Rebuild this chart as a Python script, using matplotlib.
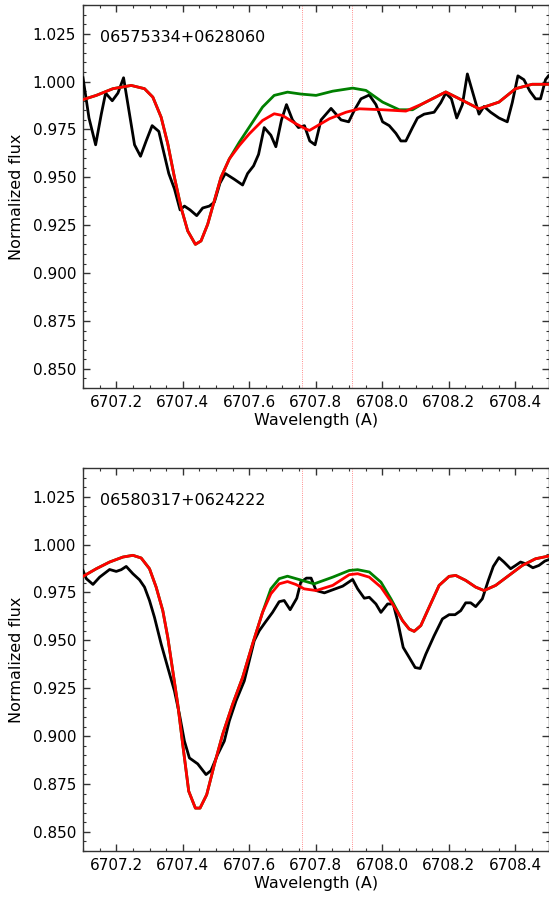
import matplotlib
matplotlib.use("Agg")
import matplotlib.pyplot as plt
from matplotlib.ticker import MultipleLocator, FormatStrFormatter

# ---------------- data: panel 1 ----------------
star1 = "06575334+0628060"
obs1_wave = [6707.100, 6707.118, 6707.138, 6707.155, 6707.168, 6707.188, 6707.205, 6707.222,
             6707.255, 6707.273, 6707.290, 6707.308, 6707.328, 6707.358, 6707.375, 6707.392,
             6707.405, 6707.422, 6707.442, 6707.460, 6707.480, 6707.495, 6707.512, 6707.528,
             6707.555, 6707.580, 6707.595, 6707.613, 6707.628, 6707.645, 6707.665, 6707.680,
             6707.697, 6707.712, 6707.730, 6707.748, 6707.766, 6707.782, 6707.798, 6707.816,
             6707.846, 6707.876, 6707.899, 6707.916, 6707.936, 6707.961, 6707.981, 6708.001,
             6708.021, 6708.041, 6708.056, 6708.071, 6708.091, 6708.106, 6708.126, 6708.156,
             6708.176, 6708.191, 6708.208, 6708.224, 6708.241, 6708.256, 6708.276, 6708.291,
             6708.306, 6708.326, 6708.351, 6708.376, 6708.391, 6708.408, 6708.426, 6708.444,
             6708.461, 6708.476, 6708.491, 6708.500]
obs1_flux = [1.002, 0.981, 0.967, 0.983, 0.994, 0.990, 0.994, 1.002,
             0.967, 0.961, 0.969, 0.977, 0.974, 0.952, 0.944, 0.933,
             0.935, 0.933, 0.930, 0.934, 0.935, 0.937, 0.947, 0.952,
             0.949, 0.946, 0.952, 0.956, 0.962, 0.976, 0.972, 0.966,
             0.980, 0.988, 0.980, 0.976, 0.977, 0.969, 0.967, 0.980,
             0.986, 0.980, 0.979, 0.985, 0.991, 0.993, 0.988, 0.979,
             0.977, 0.973, 0.969, 0.969, 0.976, 0.981, 0.983, 0.984,
             0.989, 0.994, 0.991, 0.981, 0.988, 1.004, 0.992, 0.983,
             0.987, 0.984, 0.981, 0.979, 0.989, 1.003, 1.001, 0.995,
             0.991, 0.991, 1.001, 1.003]

fit1_wave = [6707.100, 6707.140, 6707.190, 6707.245, 6707.285, 6707.310, 6707.335, 6707.355,
             6707.375, 6707.395, 6707.415, 6707.438, 6707.455, 6707.475, 6707.495, 6707.515,
             6707.540, 6707.570, 6707.600, 6707.640, 6707.675, 6707.700, 6707.740, 6707.770,
             6707.781, 6707.841, 6707.891, 6707.931, 6708.001, 6708.071, 6708.121, 6708.191,
             6708.231, 6708.291, 6708.351, 6708.401, 6708.451, 6708.500]
fit1_flux = [0.9906, 0.9928, 0.9963, 0.9980, 0.9963, 0.9919, 0.9814, 0.9675,
             0.9500, 0.9342, 0.9220, 0.9150, 0.9168, 0.9255, 0.9378, 0.9500,
             0.9596, 0.9666, 0.9727, 0.9797, 0.9832, 0.9823, 0.9780, 0.9753,
             0.9745, 0.9806, 0.9840, 0.9858, 0.9853, 0.9846, 0.9884, 0.9946,
             0.9911, 0.9858, 0.9893, 0.9963, 0.9986, 0.9986]

nli1_wave = [6707.100, 6707.140, 6707.190, 6707.245, 6707.285, 6707.310, 6707.335, 6707.355,
             6707.375, 6707.395, 6707.415, 6707.438, 6707.455, 6707.475, 6707.495, 6707.515,
             6707.540, 6707.570, 6707.600, 6707.640, 6707.675, 6707.715, 6707.755, 6707.801,
             6707.851, 6707.911, 6707.951, 6708.001, 6708.051, 6708.091, 6708.121, 6708.191,
             6708.231, 6708.291, 6708.351, 6708.401, 6708.451, 6708.500]
nli1_flux = [0.9906, 0.9928, 0.9963, 0.9980, 0.9963, 0.9919, 0.9814, 0.9675,
             0.9500, 0.9342, 0.9220, 0.9150, 0.9168, 0.9255, 0.9378, 0.9500,
             0.9596, 0.9683, 0.9762, 0.9867, 0.9928, 0.9945, 0.9935, 0.9928,
             0.9950, 0.9966, 0.9954, 0.9893, 0.9853, 0.9853, 0.9884, 0.9946,
             0.9911, 0.9858, 0.9893, 0.9963, 0.9986, 0.9986]

# ---------------- data: panel 2 ----------------
star2 = "06580317+0624222"
obs2_wave = [6707.100, 6707.110, 6707.130, 6707.150, 6707.180, 6707.200, 6707.215, 6707.230,
             6707.250, 6707.270, 6707.285, 6707.300, 6707.315, 6707.335, 6707.355, 6707.375,
             6707.390, 6707.405, 6707.420, 6707.445, 6707.470, 6707.485, 6707.505, 6707.525,
             6707.540, 6707.560, 6707.585, 6707.600, 6707.615, 6707.630, 6707.648, 6707.670,
             6707.690, 6707.705, 6707.723, 6707.743, 6707.755, 6707.772, 6707.786, 6707.801,
             6707.826, 6707.851, 6707.881, 6707.911, 6707.926, 6707.946, 6707.961, 6707.981,
             6707.996, 6708.016, 6708.033, 6708.046, 6708.063, 6708.081, 6708.099, 6708.114,
             6708.131, 6708.156, 6708.181, 6708.201, 6708.219, 6708.236, 6708.251, 6708.266,
             6708.281, 6708.301, 6708.319, 6708.334, 6708.351, 6708.366, 6708.386, 6708.401,
             6708.416, 6708.436, 6708.453, 6708.471, 6708.489, 6708.500]
obs2_flux = [0.9865, 0.9822, 0.9792, 0.9830, 0.9870, 0.9860, 0.9869, 0.9886,
             0.9848, 0.9816, 0.9778, 0.9708, 0.9620, 0.9481, 0.9358, 0.9236,
             0.9114, 0.8974, 0.8886, 0.8855, 0.8799, 0.8820, 0.8904, 0.8974,
             0.9079, 0.9183, 0.9288, 0.9393, 0.9498, 0.9550, 0.9594, 0.9646,
             0.9702, 0.9708, 0.9660, 0.9720, 0.9804, 0.9825, 0.9825, 0.9760,
             0.9748, 0.9764, 0.9783, 0.9818, 0.9769, 0.9720, 0.9725, 0.9690,
             0.9646, 0.9690, 0.9690, 0.9603, 0.9463, 0.9411, 0.9358, 0.9353,
             0.9428, 0.9524, 0.9612, 0.9634, 0.9634, 0.9655, 0.9696, 0.9696,
             0.9676, 0.9717, 0.9813, 0.9886, 0.9932, 0.9909, 0.9874, 0.9891,
             0.9909, 0.9897, 0.9879, 0.9891, 0.9914, 0.9921]

fit2_wave = [6707.100, 6707.140, 6707.180, 6707.220, 6707.250, 6707.275, 6707.300, 6707.320,
             6707.340, 6707.355, 6707.370, 6707.385, 6707.400, 6707.418, 6707.438, 6707.452,
             6707.472, 6707.495, 6707.520, 6707.550, 6707.580, 6707.610, 6707.640, 6707.665,
             6707.690, 6707.715, 6707.740, 6707.765, 6707.801, 6707.851, 6707.901, 6707.926,
             6707.961, 6707.996, 6708.031, 6708.061, 6708.081, 6708.096, 6708.116, 6708.141,
             6708.171, 6708.201, 6708.221, 6708.251, 6708.281, 6708.306, 6708.341, 6708.381,
             6708.421, 6708.461, 6708.500]
fit2_flux = [0.9834, 0.9874, 0.9909, 0.9935, 0.9944, 0.9930, 0.9874, 0.9778,
             0.9655, 0.9515, 0.9341, 0.9166, 0.8956, 0.8712, 0.8624, 0.8624,
             0.8694, 0.8851, 0.9009, 0.9166, 0.9306, 0.9481, 0.9646, 0.9743,
             0.9795, 0.9807, 0.9792, 0.9769, 0.9760, 0.9787, 0.9843, 0.9848,
             0.9830, 0.9778, 0.9690, 0.9603, 0.9559, 0.9547, 0.9577, 0.9673,
             0.9787, 0.9834, 0.9839, 0.9813, 0.9778, 0.9760, 0.9787, 0.9839,
             0.9891, 0.9926, 0.9940]

nli2_wave = [6707.100, 6707.140, 6707.180, 6707.220, 6707.250, 6707.275, 6707.300, 6707.320,
             6707.340, 6707.355, 6707.370, 6707.385, 6707.400, 6707.418, 6707.438, 6707.452,
             6707.472, 6707.495, 6707.520, 6707.550, 6707.580, 6707.610, 6707.640, 6707.665,
             6707.690, 6707.715, 6707.745, 6707.795, 6707.851, 6707.901, 6707.926, 6707.961,
             6707.996, 6708.026, 6708.061, 6708.081, 6708.096, 6708.116, 6708.141,
             6708.171, 6708.201, 6708.221, 6708.251, 6708.281, 6708.306, 6708.341, 6708.381,
             6708.421, 6708.461, 6708.500]
nli2_flux = [0.9834, 0.9874, 0.9909, 0.9935, 0.9944, 0.9930, 0.9874, 0.9778,
             0.9655, 0.9515, 0.9341, 0.9166, 0.8956, 0.8712, 0.8624, 0.8624,
             0.8694, 0.8851, 0.9009, 0.9166, 0.9306, 0.9481, 0.9646, 0.9769,
             0.9822, 0.9835, 0.9820, 0.9795, 0.9830, 0.9865, 0.9869, 0.9857,
             0.9804, 0.9717, 0.9603, 0.9559, 0.9547, 0.9577, 0.9673,
             0.9787, 0.9834, 0.9839, 0.9813, 0.9778, 0.9760, 0.9787, 0.9839,
             0.9891, 0.9926, 0.9940]

li_lines = [6707.76, 6707.91]
xlim = (6707.1, 6708.5)
ylim = (0.84, 1.04)

panels = [
    (star1, obs1_wave, obs1_flux, nli1_wave, nli1_flux, fit1_wave, fit1_flux),
    (star2, obs2_wave, obs2_flux, nli2_wave, nli2_flux, fit2_wave, fit2_flux),
]

W, H = 549, 899
fig = plt.figure(figsize=(W / 100, H / 100), dpi=100)
plt.rcParams['font.family'] = ['DejaVu Sans']

boxes = [(83, 5, 548.5, 388), (83, 468, 548.5, 851)]

for (name, ow, of, gw, gf, rw, rf), (l, t, r, b) in zip(panels, boxes):
    ax = fig.add_axes([l / W, 1 - b / H, (r - l) / W, (b - t) / H])
    ax.plot(ow, of, color='black', lw=2.0, zorder=3)
    ax.plot(gw, gf, color='green', lw=2.0, zorder=4)
    ax.plot(rw, rf, color='red', lw=2.0, zorder=5)
    for lam in li_lines:
        ax.axvline(lam, color='red', lw=0.6, ls=':', alpha=0.6, zorder=2)
    ax.set_xlim(*xlim)
    ax.set_ylim(*ylim)
    ax.xaxis.set_major_locator(MultipleLocator(0.2))
    ax.xaxis.set_minor_locator(MultipleLocator(0.05))
    ax.yaxis.set_major_locator(MultipleLocator(0.025))
    ax.yaxis.set_minor_locator(MultipleLocator(0.005))
    ax.xaxis.set_major_formatter(FormatStrFormatter('%.1f'))
    ax.yaxis.set_major_formatter(FormatStrFormatter('%.3f'))
    ax.tick_params(which='both', direction='in', top=True, right=True,
                   labelsize=11, color='#333333')
    ax.tick_params(which='major', length=5, width=1.0, pad=5)
    ax.tick_params(which='minor', length=2.5, width=0.8)
    for s in ax.spines.values():
        s.set_color('#333333')
        s.set_linewidth(1.0)
    ax.set_xlabel('Wavelength (A)', fontsize=11.5, labelpad=2)
    ax.set_ylabel('Normalized flux', fontsize=11.5, labelpad=6)
    ax.text(0.036, 0.915, name, transform=ax.transAxes, ha='left', va='center',
            fontsize=11.5)

fig.savefig('out.png', dpi=100)
